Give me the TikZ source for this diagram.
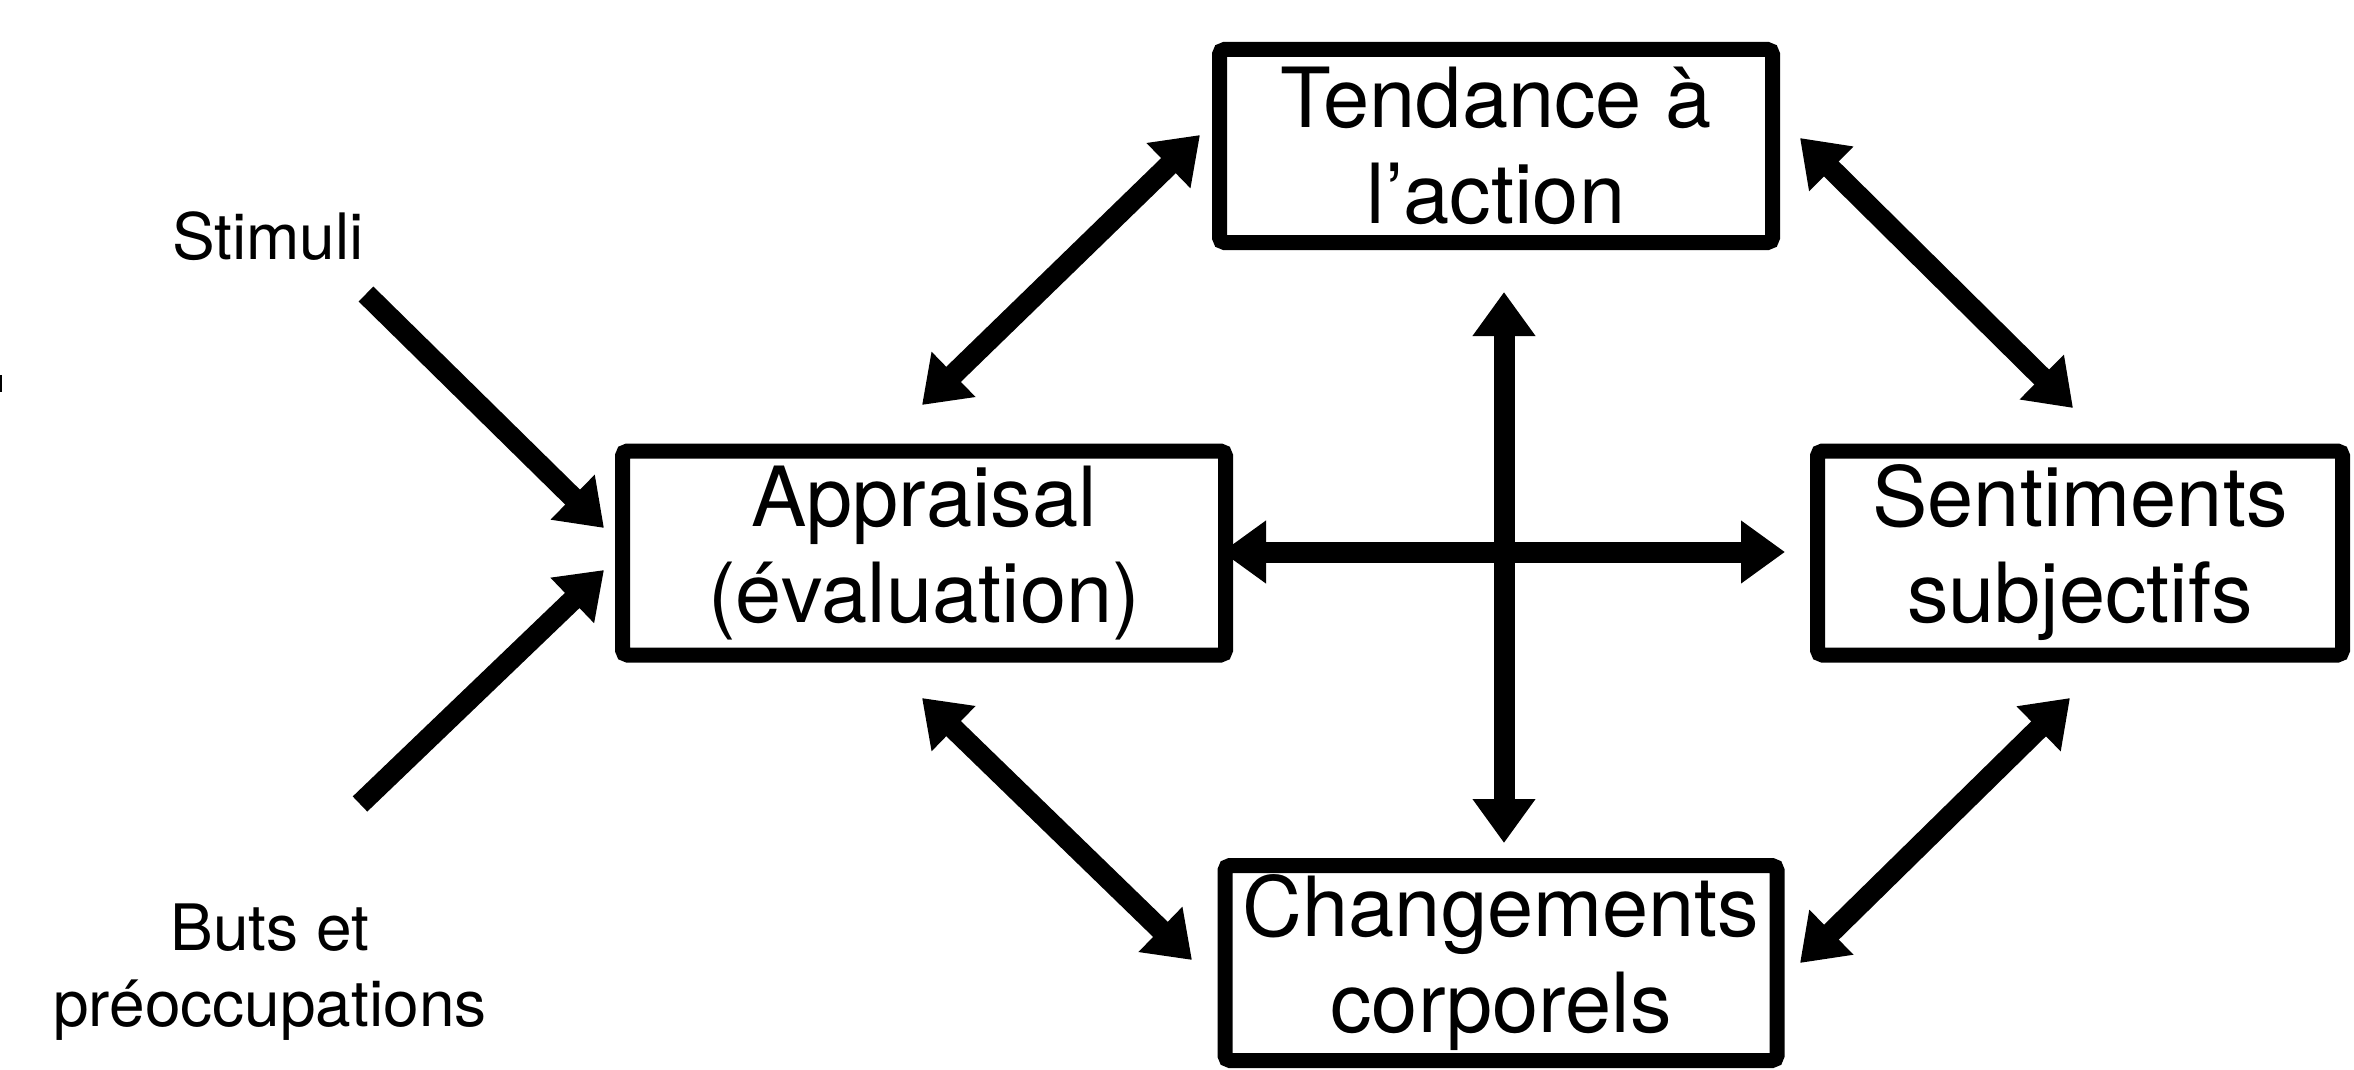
\documentclass[tikz,border=0pt]{standalone}
\usepackage{fontspec}
\setmainfont{TeX Gyre Heros}
\usetikzlibrary{arrows.meta}
\tikzset{
  box/.style={draw=black, line width=15pt, rounded corners=5pt, inner sep=0pt, align=center,
    font=\fontsize{83}{96}\selectfont},
  side/.style={inner sep=0pt, align=center, font=\fontsize{64}{76}\selectfont},
  arr/.style={line width=21pt, -{Triangle[length=44pt,width=60pt]}},
  darr/.style={line width=21pt, {Triangle[length=44pt,width=60pt]}-{Triangle[length=44pt,width=60pt]}},
}
\begin{document}
\begin{tikzpicture}[x=1pt,y=-1pt]
\useasboundingbox[fill=white] (0,0) rectangle (2354,1070);
\fill[black] (0,375) rectangle (2,392);
% boxes
\node[box, minimum width=553pt, minimum height=193pt] (T) at (1496,146) {Tendance à\\l’action};
\node[box, minimum width=603pt, minimum height=204pt] (A) at (924,553) {Appraisal\\(évaluation)};
\node[box, minimum width=525pt, minimum height=204pt] (S) at (2080,553) {Sentiments\\subjectifs};
\node[box, minimum width=552pt, minimum height=195pt] (C) at (1501,963) {Changements\\corporels};
% side texts
\node[side] (stim) at (268,236) {Stimuli};
\node[side] (buts) at (270,972) {Buts et\\préoccupations};
% arrow end points
\coordinate (s1) at (366,294);
\coordinate (s2) at (604,528);
\coordinate (b1) at (360,804);
\coordinate (b2) at (604,570);
\coordinate (at1) at (922,405);
\coordinate (at2) at (1200,135);
\coordinate (ts1) at (1800,138);
\coordinate (ts2) at (2073,408);
\coordinate (ac1) at (922,698);
\coordinate (ac2) at (1192,960);
\coordinate (sc1) at (2070,698);
\coordinate (sc2) at (1800,963);
\coordinate (h1) at (1222,552);
\coordinate (h2) at (1785,552);
\coordinate (v1) at (1504,292);
\coordinate (v2) at (1504,843);
% arrows
\draw[arr] (s1) -- (s2);
\draw[arr] (b1) -- (b2);
\draw[darr] (at1) -- (at2);
\draw[darr] (ts1) -- (ts2);
\draw[darr] (ac1) -- (ac2);
\draw[darr] (sc1) -- (sc2);
\draw[darr] (h1) -- (h2);
\draw[darr] (v1) -- (v2);
\end{tikzpicture}
\end{document}
